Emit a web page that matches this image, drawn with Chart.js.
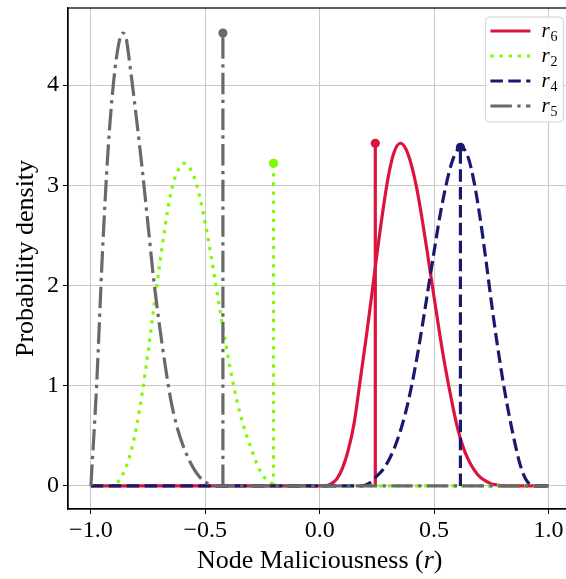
<!DOCTYPE html>
<html>
<head>
<meta charset="utf-8">
<script src="https://cdn.jsdelivr.net/npm/chart.js@4.4.0/dist/chart.umd.min.js"></script>
<style>
html, body { margin: 0; padding: 0; background: #fff; overflow: hidden; }
#myChart { display: block; }
</style>
</head>
<body>
<canvas id="myChart" width="576" height="579"></canvas>
<script>
// values
var seriesLabels = ["r6", "r2", "r4", "r5"];

var r6R = [-1.0, 0.025, 0.05, 0.075, 0.1, 0.125, 0.15, 0.175, 0.2, 0.225, 0.25, 0.275, 0.3, 0.325, 0.352, 0.375, 0.4, 0.425, 0.45, 0.475, 0.5, 0.525, 0.55, 0.575, 0.6, 0.625, 0.65, 0.675, 0.7, 0.725, 0.75, 0.775, 0.8, 1.0];
var r6Density = [0, 0, 0.02, 0.07, 0.18, 0.36, 0.62, 1.02, 1.43, 1.86, 2.31, 2.73, 3.09, 3.33, 3.42, 3.37, 3.21, 2.96, 2.63, 2.26, 1.88, 1.51, 1.17, 0.87, 0.60, 0.40, 0.26, 0.16, 0.09, 0.05, 0.02, 0.01, 0, 0];

var r2R = [-1.0, -0.925, -0.9, -0.875, -0.85, -0.825, -0.8, -0.775, -0.75, -0.725, -0.7, -0.675, -0.65, -0.625, -0.59, -0.55, -0.525, -0.5, -0.475, -0.45, -0.425, -0.4, -0.375, -0.35, -0.325, -0.3, -0.275, -0.25, -0.225, -0.2, -0.175, 1.0];
var r2Density = [0, 0, 0.01, 0.06, 0.17, 0.34, 0.6, 0.94, 1.34, 1.78, 2.2, 2.6, 2.93, 3.12, 3.22, 3.09, 2.89, 2.62, 2.3, 1.95, 1.61, 1.28, 0.99, 0.74, 0.54, 0.38, 0.22, 0.11, 0.05, 0.015, 0, 0];

var r4R = [-1.0, 0.175, 0.2, 0.225, 0.25, 0.275, 0.3, 0.325, 0.35, 0.375, 0.4, 0.425, 0.45, 0.475, 0.5, 0.525, 0.55, 0.575, 0.6, 0.62, 0.65, 0.675, 0.7, 0.725, 0.75, 0.775, 0.8, 0.825, 0.85, 0.875, 0.9, 0.925, 0.95, 1.0];
var r4Density = [0, 0, 0.01, 0.04, 0.1, 0.16, 0.25, 0.37, 0.53, 0.73, 0.98, 1.28, 1.62, 1.98, 2.34, 2.69, 2.98, 3.21, 3.35, 3.38, 3.27, 3.03, 2.69, 2.28, 1.84, 1.43, 1.06, 0.74, 0.46, 0.22, 0.07, 0.01, 0, 0];

var r5R = [-1.0, -0.975, -0.95, -0.925, -0.9, -0.875, -0.861, -0.85, -0.825, -0.8, -0.775, -0.75, -0.725, -0.7, -0.675, -0.65, -0.625, -0.6, -0.575, -0.55, -0.525, -0.5, -0.475, -0.45, 1.0];
var r5Density = [0, 1.0, 2.3, 3.35, 4.05, 4.45, 4.52, 4.5, 4.12, 3.65, 3.15, 2.6, 2.05, 1.6, 1.2, 0.85, 0.6, 0.42, 0.28, 0.17, 0.09, 0.04, 0.01, 0, 0];

// vertical marker lines (x position, height)
var stemR = [0.243, -0.202, 0.615, -0.423];
var stemHeight = [3.42, 3.22, 3.38, 4.52];

var xTicks = [-1.0, -0.5, 0.0, 0.5, 1.0];
var yTicks = [0, 1, 2, 3, 4];

var curveR = [r6R, r2R, r4R, r5R];
var curveDensity = [r6Density, r2Density, r4Density, r5Density];

var colors = ["#dc143c", "#7cfc00", "#191970", "#696969"];
var dashes = [[], [3.3, 5.8], [12.5, 5.4], [21.5, 5.4, 3.3, 5.4]];
var lineW = 3.2;
var serif = '"Liberation Serif", "Times New Roman", serif';

var datasets = [];
var n = seriesLabels.length;
for (var i = 0; i < n; i++) {
    var pts = curveR[i].map(function (r, j) { return {x: r, y: curveDensity[i][j]}; });
    datasets.push({
        label: seriesLabels[i],
        data: pts,
        borderColor: colors[i],
        borderWidth: lineW,
        borderDash: dashes[i],
        borderCapStyle: "butt",
        pointRadius: 0,
        fill: false,
        cubicInterpolationMode: "monotone",
        order: 2 * (n - i)
    });
    datasets.push({
        label: seriesLabels[i] + " stem",
        data: [{x: stemR[i], y: 0}, {x: stemR[i], y: stemHeight[i]}],
        borderColor: colors[i],
        borderWidth: lineW,
        borderDash: dashes[i],
        borderCapStyle: "butt",
        pointRadius: [0, 4.6],
        pointBackgroundColor: colors[i],
        pointBorderWidth: 0,
        tension: 0,
        fill: false,
        order: 2 * (n - i) - 1
    });
}

var frameAndLegend = {
    id: "frameAndLegend",
    afterDatasetsDraw: function (chart) {
        var ctx = chart.ctx, a = chart.chartArea;
        ctx.save();
        ctx.strokeStyle = "#000";
        ctx.lineWidth = 1.25;
        ctx.strokeRect(a.left, a.top, a.right - a.left, a.bottom - a.top);

        // legend box
        var bx = a.right - 86, by = a.top + 9, bw = 78, bh = 105;
        ctx.fillStyle = "rgba(255,255,255,0.85)";
        ctx.strokeStyle = "#d0d0d0";
        ctx.lineWidth = 1;
        ctx.beginPath();
        ctx.roundRect(bx, by, bw, bh, 4);
        ctx.fill();
        ctx.stroke();
        for (var i = 0; i < seriesLabels.length; i++) {
            var ly = by + 14 + i * 25;
            ctx.strokeStyle = colors[i];
            ctx.lineWidth = lineW;
            ctx.lineCap = "butt";
            ctx.setLineDash(dashes[i]);
            ctx.beginPath();
            ctx.moveTo(bx + 5, ly);
            ctx.lineTo(bx + 45, ly);
            ctx.stroke();
            ctx.setLineDash([]);
            ctx.fillStyle = "#000";
            ctx.textAlign = "left";
            ctx.textBaseline = "alphabetic";
            ctx.font = "italic 21px " + serif;
            var lab = seriesLabels[i];
            ctx.fillText(lab.charAt(0), bx + 56, ly + 6);
            var w = ctx.measureText(lab.charAt(0)).width;
            ctx.font = "14px " + serif;
            ctx.fillText(lab.slice(1), bx + 56 + w + 1, ly + 10);
        }

        // x axis title with italic r, centred on x = 0
        var parts = [["Node Maliciousness (", ""], ["r", "italic "], [")", ""]];
        var total = 0;
        parts.forEach(function (p) { ctx.font = p[1] + "26px " + serif; total += ctx.measureText(p[0]).width; });
        var x = chart.scales.x.getPixelForValue(0) - total / 2;
        ctx.fillStyle = "#000";
        parts.forEach(function (p) {
            ctx.font = p[1] + "26px " + serif;
            ctx.fillText(p[0], x, 568);
            x += ctx.measureText(p[0]).width;
        });
        ctx.restore();
    }
};

new Chart("myChart", {
    type: "line",
    data: { datasets: datasets },
    options: {
        responsive: false,
        animation: false,
        layout: { padding: { top: 8, left: 0, right: 0, bottom: 0 } },
        plugins: { legend: { display: false }, tooltip: { enabled: false } },
        scales: {
            x: {
                type: "linear",
                min: -1.1,
                max: 1.1,
                afterBuildTicks: function (s) { s.ticks = xTicks.map(function (v) { return {value: v}; }); },
                afterFit: function (s) { s.height = 70; },
                ticks: {
                    color: "#000",
                    font: { family: serif, size: 24 },
                    padding: 2,
                    maxRotation: 0,
                    autoSkip: false,
                    callback: function (v) { return v.toFixed(1).replace("-", "\u2212"); }
                },
                grid: { color: "#c8c8c8", lineWidth: 1, tickColor: "#000", tickLength: 5, tickWidth: 1 },
                border: { color: "#000", width: 1.25 }
            },
            y: {
                min: -0.23,
                max: 4.77,
                afterBuildTicks: function (s) { s.ticks = yTicks.map(function (v) { return {value: v}; }); },
                afterFit: function (s) { s.width = 68; s.paddingTop = 0; s.paddingBottom = 0; },
                ticks: {
                    color: "#000",
                    font: { family: serif, size: 24 },
                    padding: 4,
                    autoSkip: false,
                    callback: function (v) { return String(v); }
                },
                grid: { color: "#c8c8c8", lineWidth: 1, tickColor: "#000", tickLength: 5, tickWidth: 1 },
                border: { color: "#000", width: 1.25 },
                title: {
                    display: true,
                    text: "Probability density",
                    color: "#000",
                    font: { family: serif, size: 26 },
                    padding: { top: 11, bottom: 0 }
                }
            }
        }
    },
    plugins: [frameAndLegend]
});
</script>
</body>
</html>
